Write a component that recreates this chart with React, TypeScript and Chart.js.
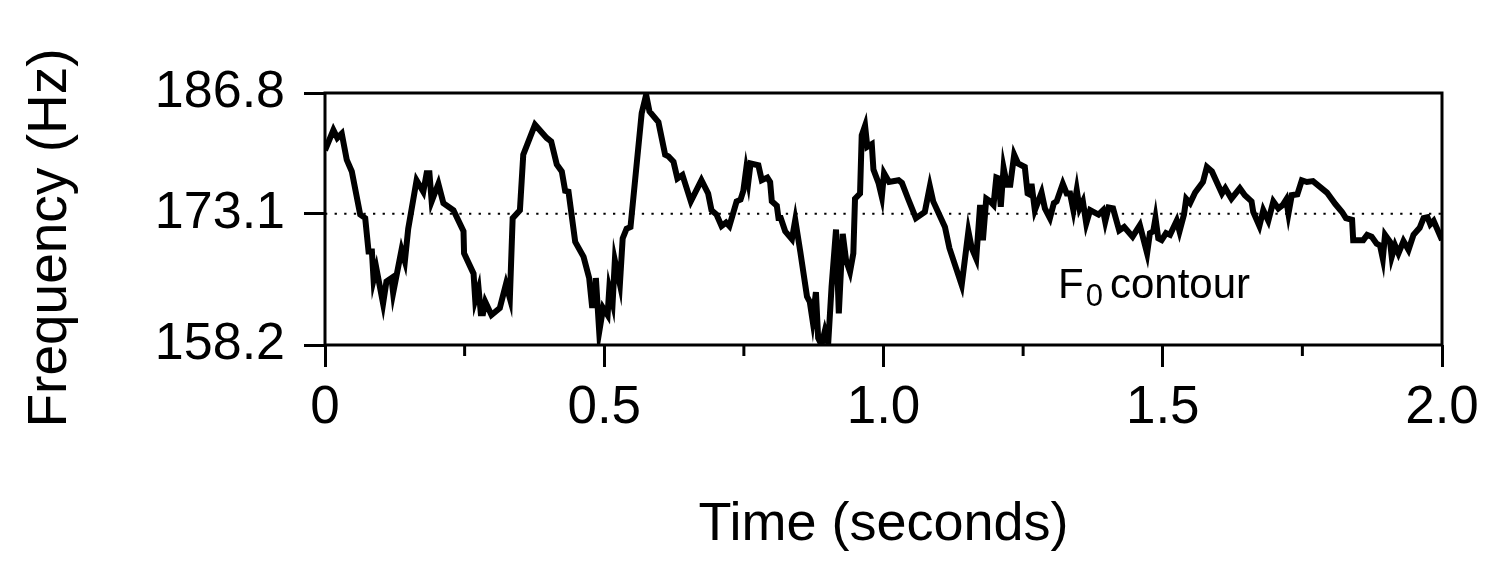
import React, { useEffect, useRef } from "react";
import { Chart, registerables } from "chart.js";

Chart.register(...registerables);

// F0 contour: time (s) and frequency (Hz)
const times = [
  0.0, 0.015, 0.022, 0.03, 0.039, 0.048, 0.063, 0.072, 0.078, 0.084, 0.087, 0.092, 0.104, 0.11, 0.119, 0.122,
  0.137, 0.143, 0.149, 0.164, 0.176, 0.182, 0.187, 0.191, 0.203, 0.212, 0.23, 0.248, 0.249, 0.266, 0.269, 0.275,
  0.279, 0.283, 0.287, 0.298, 0.313, 0.324, 0.331, 0.336, 0.349, 0.355, 0.376, 0.397, 0.405, 0.415, 0.424, 0.43,
  0.436, 0.448, 0.463, 0.473, 0.478, 0.483, 0.485, 0.491, 0.498, 0.506, 0.509, 0.515, 0.519, 0.528, 0.533, 0.54,
  0.547, 0.567, 0.575, 0.581, 0.597, 0.609, 0.615, 0.624, 0.631, 0.64, 0.655, 0.674, 0.686, 0.692, 0.701, 0.71,
  0.718, 0.724, 0.737, 0.744, 0.749, 0.754, 0.758, 0.762, 0.776, 0.782, 0.792, 0.797, 0.8, 0.809, 0.812, 0.816,
  0.824, 0.836, 0.842, 0.851, 0.863, 0.868, 0.873, 0.879, 0.883, 0.889, 0.895, 0.901, 0.907, 0.915, 0.92, 0.927,
  0.933, 0.94, 0.946, 0.949, 0.958, 0.961, 0.967, 0.971, 0.979, 0.982, 0.991, 0.997, 1.001, 1.01, 1.027, 1.033,
  1.044, 1.058, 1.074, 1.083, 1.089, 1.11, 1.118, 1.14, 1.152, 1.158, 1.166, 1.173, 1.178, 1.184, 1.191, 1.197,
  1.202, 1.206, 1.21, 1.215, 1.221, 1.227, 1.234, 1.241, 1.253, 1.258, 1.264, 1.265, 1.271, 1.283, 1.289, 1.298,
  1.305, 1.31, 1.321, 1.328, 1.334, 1.34, 1.346, 1.351, 1.357, 1.363, 1.37, 1.385, 1.393, 1.397, 1.403, 1.411,
  1.422, 1.431, 1.446, 1.459, 1.472, 1.477, 1.483, 1.487, 1.492, 1.498, 1.506, 1.513, 1.525, 1.53, 1.538, 1.542,
  1.549, 1.558, 1.572, 1.579, 1.588, 1.606, 1.612, 1.623, 1.638, 1.647, 1.659, 1.662, 1.673, 1.68, 1.689, 1.698,
  1.707, 1.715, 1.721, 1.725, 1.731, 1.741, 1.749, 1.758, 1.769, 1.794, 1.809, 1.821, 1.828, 1.839, 1.841, 1.859,
  1.866, 1.874, 1.883, 1.889, 1.894, 1.898, 1.907, 1.91, 1.916, 1.922, 1.931, 1.94, 1.949, 1.96, 1.967, 1.974,
  1.979, 1.985, 2.0,
];

const f0 = [
  180.3, 182.6, 181.7, 182.2, 179.2, 177.9, 173.0, 172.6, 168.8, 168.8, 165.6, 166.9, 162.9, 165.4, 165.8, 164.1,
  169.0, 167.7, 171.4, 176.9, 175.6, 177.7, 177.7, 174.5, 176.5, 174.3, 173.5, 171.1, 168.6, 166.3, 163.3, 164.6,
  161.8, 161.8, 163.1, 161.6, 162.4, 165.1, 163.5, 172.6, 173.5, 179.8, 183.2, 181.7, 181.3, 178.7, 177.9, 175.7,
  175.6, 169.9, 168.2, 165.8, 162.7, 162.7, 165.8, 159.7, 162.4, 161.6, 164.6, 163.0, 167.8, 165.1, 170.3, 171.4,
  171.6, 184.5, 186.6, 184.7, 183.5, 179.8, 179.6, 179.0, 177.1, 177.5, 174.5, 176.9, 175.4, 173.5, 173.0, 171.7,
  172.1, 171.7, 174.5, 174.7, 175.7, 178.1, 176.7, 178.8, 178.6, 176.9, 177.2, 176.7, 174.5, 174.0, 172.6, 172.6,
  171.1, 170.2, 172.4, 168.8, 163.7, 163.1, 161.0, 164.2, 159.0, 158.2, 159.8, 158.4, 164.8, 171.3, 161.8, 170.8,
  167.8, 166.5, 168.6, 174.8, 175.4, 182.0, 183.1, 180.7, 181.0, 178.1, 176.6, 175.0, 177.7, 176.7, 176.9, 176.6,
  174.8, 172.6, 173.3, 176.2, 174.5, 171.6, 169.2, 165.0, 171.1, 169.2, 168.0, 174.1, 170.1, 174.8, 174.5, 174.1,
  177.2, 177.1, 173.9, 178.3, 176.4, 176.4, 179.8, 178.8, 178.4, 175.4, 175.2, 176.5, 173.5, 175.5, 173.7, 172.6,
  174.3, 174.5, 176.5, 175.4, 175.4, 173.5, 175.8, 173.7, 174.5, 172.0, 173.5, 173.0, 173.5, 172.2, 173.8, 173.7,
  171.2, 171.6, 170.5, 171.8, 168.6, 170.9, 171.1, 172.6, 170.3, 170.1, 170.9, 170.7, 172.3, 171.1, 173.0, 174.8,
  174.3, 175.5, 176.7, 178.4, 177.9, 175.4, 176.0, 174.8, 176.0, 175.2, 174.5, 173.3, 171.7, 173.5, 172.3, 174.5,
  173.7, 174.1, 174.7, 173.1, 175.2, 175.3, 176.9, 176.7, 176.8, 175.5, 174.2, 173.3, 172.6, 172.4, 170.1, 170.1,
  170.7, 170.5, 169.7, 169.5, 168.0, 170.7, 169.9, 168.2, 169.5, 168.6, 170.0, 169.0, 170.7, 171.5, 172.6, 172.7,
  171.9, 172.3, 170.1,
];

const meanF0 = 173.1;
const yTicks = [158.2, 173.1, 186.8];
const xMinorTicks = [0.25, 0.75, 1.25, 1.75];
const labelPos = { t: 1.3125, f: 163.5 }; // baseline-left of the "F0 contour" note

const FONT = "'Liberation Sans', Arial, Helvetica, sans-serif";

const extrasPlugin = {
  id: "extras",
  afterDraw(chart: any) {
    const { ctx, chartArea, scales } = chart;
    ctx.save();
    ctx.strokeStyle = "#000";
    ctx.fillStyle = "#000";
    ctx.lineWidth = 3;
    ctx.strokeRect(chartArea.left, chartArea.top, chartArea.right - chartArea.left, chartArea.bottom - chartArea.top);

    // short minor ticks under the x axis
    xMinorTicks.forEach((v) => {
      const px = scales.x.getPixelForValue(v);
      ctx.beginPath();
      ctx.moveTo(px, chartArea.bottom);
      ctx.lineTo(px, chartArea.bottom + 11);
      ctx.stroke();
    });

    // y axis title (sits a bit lower than the axis centre in the original)
    ctx.save();
    ctx.translate(51, (chartArea.top + chartArea.bottom) / 2 + 19);
    ctx.rotate(-Math.PI / 2);
    ctx.font = `55px ${FONT}`;
    ctx.textAlign = "center";
    ctx.textBaseline = "middle";
    ctx.fillText("Frequency (Hz)", 0, 0);
    ctx.restore();

    // F0 contour note
    const lx = scales.x.getPixelForValue(labelPos.t);
    const ly = scales.y.getPixelForValue(labelPos.f);
    ctx.textAlign = "left";
    ctx.textBaseline = "alphabetic";
    ctx.font = `42px ${FONT}`;
    ctx.fillText("F", lx, ly);
    const fw = ctx.measureText("F").width;
    ctx.font = `31px ${FONT}`;
    ctx.fillText("0", lx + fw + 2, ly + 8);
    const zw = ctx.measureText("0").width;
    ctx.font = `42px ${FONT}`;
    ctx.fillText("contour", lx + fw + zw + 9, ly);
    ctx.restore();
  },
};

export default function App() {
  const canvasRef = useRef<HTMLCanvasElement | null>(null);

  useEffect(() => {
    document.body.style.margin = "0";
    if (!canvasRef.current) return;

    const points = times.map((t, i) => ({ x: t, y: f0[i] }));

    const chart = new Chart(canvasRef.current, {
      type: "line",
      data: {
        datasets: [
          {
            label: "F0 contour",
            data: points,
            borderColor: "#000",
            borderWidth: 6,
            pointRadius: 0,
            tension: 0,
            fill: false,
          },
          {
            label: "mean",
            data: [
              { x: 0, y: meanF0 },
              { x: 2, y: meanF0 },
            ],
            borderColor: "#000",
            borderWidth: 2,
            borderDash: [2.3, 7.3],
            pointRadius: 0,
            fill: false,
          },
        ],
      },
      options: {
        responsive: false,
        animation: false,
        devicePixelRatio: 1,
        layout: { padding: { top: 93, right: 58, bottom: 0, left: 0 } },
        plugins: {
          legend: { display: false },
          tooltip: { enabled: false },
        },
        scales: {
          x: {
            type: "linear",
            min: 0,
            max: 2,
            afterFit: (scale: any) => {
              scale.height = 224;
            },
            ticks: {
              stepSize: 0.5,
              padding: 10,
              color: "#000",
              font: { family: FONT, size: 53 },
              maxRotation: 0,
              callback: (v: any) => (Number(v) === 0 ? "0" : Number(v).toFixed(1)),
            },
            grid: {
              drawOnChartArea: false,
              drawTicks: true,
              tickLength: 22,
              tickWidth: 3,
              tickColor: "#000",
              lineWidth: 3,
            },
            border: { display: false },
            title: {
              display: true,
              text: "Time (seconds)",
              color: "#000",
              font: { family: FONT, size: 54 },
              padding: { top: 0, bottom: 11 },
            },
          },
          y: {
            type: "linear",
            min: 158.2,
            max: 186.8,
            afterFit: (scale: any) => {
              scale.width = 325;
            },
            afterBuildTicks: (scale: any) => {
              scale.ticks = yTicks.map((v) => ({ value: v }));
            },
            ticks: {
              padding: 19,
              color: "#000",
              font: { family: FONT, size: 52 },
              callback: (v: any) => Number(v).toFixed(1),
            },
            grid: {
              drawOnChartArea: false,
              drawTicks: true,
              tickLength: 21,
              tickWidth: 3,
              tickColor: "#000",
              lineWidth: 3,
            },
            border: { display: false },
          },
        },
      },
      plugins: [extrasPlugin],
    });

    return () => chart.destroy();
  }, []);

  return (
    <div style={{ position: "absolute", left: 0, top: 0, width: 1500, height: 569, background: "#fff" }}>
      <canvas ref={canvasRef} width={1500} height={569} />
    </div>
  );
}
